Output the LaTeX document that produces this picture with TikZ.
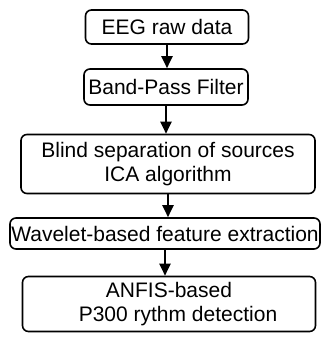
\documentclass[tikz,border=0pt]{standalone}
\usepackage{fontspec}
\setmainfont{Liberation Sans}
\usetikzlibrary{arrows.meta}

\begin{document}
\begin{tikzpicture}[x=1pt, y=-1pt,
    stage/.style={shape=rectangle, rounded corners=6pt, draw=black, line width=1.6pt,
        inner sep=0pt, align=center, font=\fontsize{21}{24}\selectfont},
    flow/.style={-{Triangle[length=12pt,width=11pt]}, line width=2pt}]
    \useasboundingbox (0,0) rectangle (322,337);

    \node[stage, minimum width=163pt, minimum height=34pt] (raw) at (167,27) {EEG raw data};
    \node[stage, minimum width=164pt, minimum height=36pt] (bpf) at (166,87) {Band-Pass Filter};
    \node[stage, minimum width=294pt, minimum height=59pt] (ica) at (168,164) {Blind separation of sources\\ICA algorithm};
    \node[stage, minimum width=310pt, minimum height=31pt] (wav) at (165,233.5) {Wavelet-based feature extraction};
    \node[stage, minimum width=293pt, minimum height=55pt] (det) at (169,304) {ANFIS-based\\\hspace*{18pt}P300 rythm detection};

    \path [flow] (raw) edge (raw |- bpf.north);
    \path [flow] (bpf) edge (bpf |- ica.north);
    \path [flow] (ica) edge (ica |- wav.north);
    \path [flow] (wav) edge (wav |- det.north);

\end{tikzpicture}
\end{document}
